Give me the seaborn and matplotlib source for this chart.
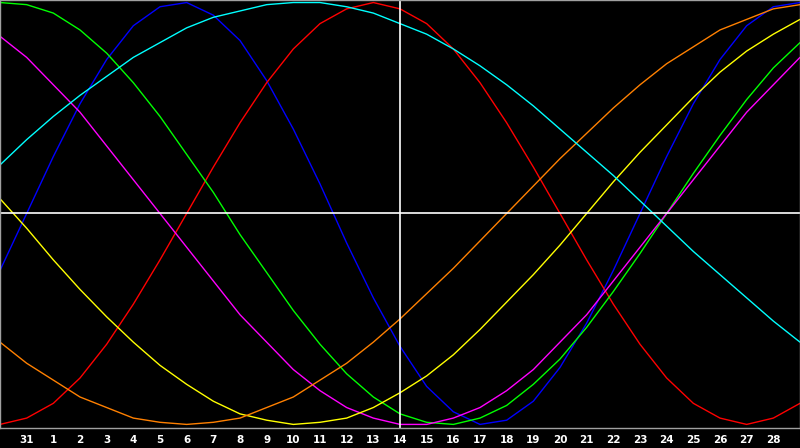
import pandas as pd
import matplotlib
matplotlib.use("Agg")
import matplotlib.pyplot as plt
import seaborn as sns

# day index across the chart (0 = Jan 30 ... 30 = Mar 1)
days = list(range(31))
tick_labels = ["31"] + [str(d) for d in range(1, 29)]

physical = [-0.27, 0.00, 0.27, 0.52, 0.73, 0.89, 0.98, 1.00, 0.94, 0.82, 0.63,
            0.40, 0.14, -0.14, -0.40, -0.63, -0.82, -0.94, -1.00, -0.98, -0.89,
            -0.73, -0.52, -0.27, 0.00, 0.27, 0.52, 0.73, 0.89, 0.98, 1.00]
emotional = [-1.00, -0.97, -0.90, -0.78, -0.62, -0.43, -0.22, 0.00, 0.22, 0.43,
             0.62, 0.78, 0.90, 0.97, 1.00, 0.97, 0.90, 0.78, 0.62, 0.43, 0.22,
             0.00, -0.22, -0.43, -0.62, -0.78, -0.90, -0.97, -1.00, -0.97, -0.90]
intellectual = [1.00, 0.99, 0.95, 0.87, 0.76, 0.62, 0.46, 0.28, 0.10, -0.10,
                -0.28, -0.46, -0.62, -0.76, -0.87, -0.95, -0.99, -1.00, -0.97,
                -0.91, -0.81, -0.69, -0.54, -0.37, -0.19, 0.00, 0.19, 0.37, 0.54,
                0.69, 0.81]
intuitive = [0.84, 0.74, 0.61, 0.48, 0.32, 0.16, 0.00, -0.16, -0.32, -0.48, -0.61,
             -0.74, -0.84, -0.92, -0.97, -1.00, -1.00, -0.97, -0.92, -0.84, -0.74,
             -0.61, -0.48, -0.32, -0.16, 0.00, 0.16, 0.32, 0.48, 0.61, 0.74]
aesthetic = [0.07, -0.07, -0.22, -0.36, -0.49, -0.61, -0.72, -0.81, -0.89, -0.95,
             -0.98, -1.00, -0.99, -0.97, -0.92, -0.85, -0.77, -0.67, -0.55, -0.42,
             -0.29, -0.15, 0.00, 0.15, 0.29, 0.42, 0.55, 0.67, 0.77, 0.85, 0.92]
awareness = [-0.61, -0.71, -0.79, -0.87, -0.92, -0.97, -0.99, -1.00, -0.99, -0.97,
             -0.92, -0.87, -0.79, -0.71, -0.61, -0.50, -0.38, -0.26, -0.13, 0.00,
             0.13, 0.26, 0.38, 0.50, 0.61, 0.71, 0.79, 0.87, 0.92, 0.97, 0.99]
spiritual = [0.23, 0.35, 0.46, 0.56, 0.65, 0.74, 0.81, 0.88, 0.93, 0.96, 0.99,
             1.00, 1.00, 0.98, 0.95, 0.90, 0.85, 0.78, 0.70, 0.61, 0.51, 0.40,
             0.29, 0.18, 0.06, -0.06, -0.18, -0.29, -0.40, -0.51, -0.61]

today = 15  # position of "14"

series = {"physical": physical, "emotional": emotional,
          "intellectual": intellectual, "intuitive": intuitive,
          "aesthetic": aesthetic, "awareness": awareness, "spiritual": spiritual}
colors = {"physical": "#0000ff", "emotional": "#ff0000", "intellectual": "#00ff00",
          "intuitive": "#ff00ff", "aesthetic": "#ffff00", "awareness": "#ff8000",
          "spiritual": "#00ffff"}

rows = []
for name, v in series.items():
    for d, y in zip(days, v):
        rows.append((d, y, name))
df = pd.DataFrame(rows, columns=["day", "value", "cycle"])

sns.set_style("dark")
fig = plt.figure(figsize=(8, 4.48), dpi=100, facecolor="black")
ax = fig.add_axes([0, 20/448, 1, 428/448])
ax.set_facecolor("black")
sns.lineplot(data=df, x="day", y="value", hue="cycle", palette=colors,
             hue_order=list(series.keys()), legend=False, ax=ax, linewidth=1.0)
ax.axhline(0, color="white", lw=1.2)
ax.axvline(today, color="white", lw=1.2)
ax.set_xlim(0, 30)
ax.set_ylim(-1.017, 1.012)
ax.set_xticks(range(1, 30))
ax.set_xticklabels(tick_labels, color="white", fontweight="bold", fontsize=7.5)
ax.set_yticks([])
ax.tick_params(axis="x", direction="in", length=4, width=1, color="white", pad=5)
ax.set_xlabel("")
ax.set_ylabel("")
for s in ax.spines.values():
    s.set_color("#a0a0a0")
    s.set_linewidth(1)
fig.savefig("out.png", dpi=100, facecolor="black")
